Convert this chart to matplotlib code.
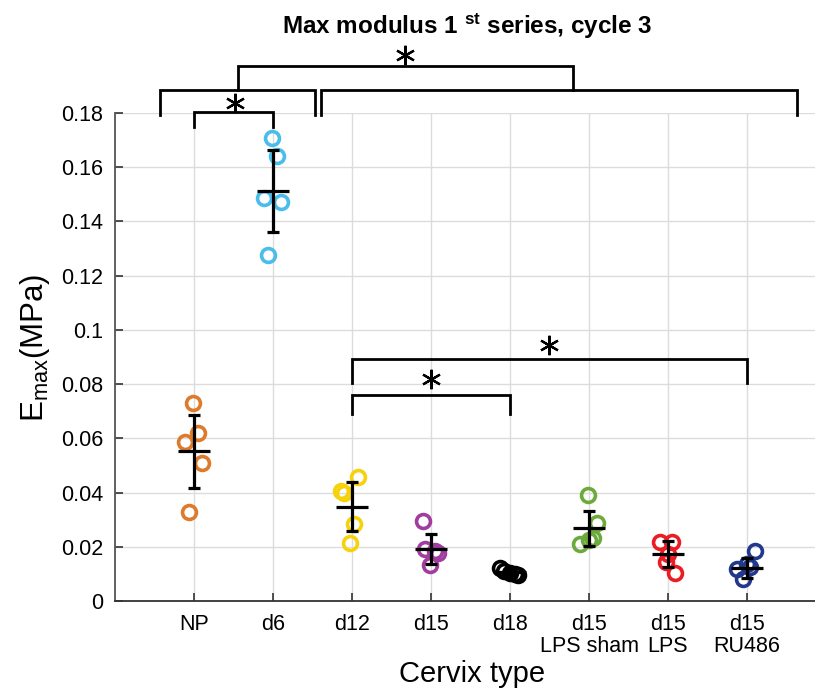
import matplotlib
matplotlib.use("Agg")
import matplotlib.pyplot as plt
import numpy as np

plt.rcParams['font.family'] = ['Liberation Sans', 'DejaVu Sans']
plt.rcParams['mathtext.fontset'] = 'custom'
plt.rcParams['mathtext.rm'] = 'Liberation Sans'
plt.rcParams['mathtext.it'] = 'Liberation Sans:italic'
plt.rcParams['mathtext.bf'] = 'Liberation Sans:bold'

categories = ["NP", "d6", "d12", "d15", "d18", "d15\nLPS sham", "d15\nLPS", "d15\nRU486"]
colors = ["#DD7A2C", "#4BBDEB", "#F6D20A", "#A03D9E", "#000000", "#6DAA3C", "#EC1C24", "#22388A"]

values = [
    [0.0730, 0.0620, 0.0587, 0.0509, 0.0328],
    [0.1708, 0.1641, 0.1487, 0.1472, 0.1276],
    [0.0457, 0.0405, 0.0400, 0.0284, 0.0214],
    [0.0295, 0.0192, 0.0185, 0.0177, 0.0133],
    [0.0120, 0.0112, 0.0104, 0.0098, 0.0096],
    [0.0391, 0.0289, 0.0232, 0.0225, 0.0210],
    [0.0219, 0.0219, 0.0175, 0.0145, 0.0102],
    [0.0184, 0.0135, 0.0127, 0.0117, 0.0081],
]
jitter = [
    [-0.01, 0.05, -0.11, 0.10, -0.06],
    [-0.01, 0.05, -0.11, 0.10, -0.06],
    [0.08, -0.14, -0.10, 0.03, -0.03],
    [-0.10, -0.08, 0.05, 0.09, -0.01],
    [-0.13, -0.08, 0.00, 0.06, 0.10],
    [-0.01, 0.10, 0.05, 0.00, -0.11],
    [-0.10, 0.05, 0.00, -0.02, 0.09],
    [0.10, 0.00, 0.04, -0.13, -0.05],
]
means = [0.0552, 0.1512, 0.0348, 0.0192, 0.0106, 0.0268, 0.0173, 0.0122]
errors = [0.0135, 0.0150, 0.0091, 0.0056, 0.0011, 0.0065, 0.0047, 0.0037]

# significance brackets: (x1, x2, y_top, y_leg_bottom)
brackets = [
    (1, 2, 0.1804, 0.1748),
    (0.57, 2.53, 0.1885, 0.1793),
    (2.61, 8.63, 0.1885, 0.1793),
    (1.56, 5.80, 0.1973, 0.1885),
    (3, 5, 0.0760, 0.0690),
    (3, 8, 0.0893, 0.0804),
]
stars = [(1.52, 0.1837), (3.67, 0.2014), (4.0, 0.0819), (5.49, 0.0944)]

fig = plt.figure(figsize=(8.15, 6.92), dpi=100)
ax = fig.add_axes([115/815, 91/692, 700/815, 488/692])

xs = np.arange(1, len(categories) + 1)
for i, x in enumerate(xs):
    ax.plot(x + np.array(jitter[i]), values[i], linestyle='none', marker='o',
            markersize=10, markerfacecolor='none', markeredgecolor=colors[i],
            markeredgewidth=2.6, zorder=3, clip_on=False)
    ax.errorbar(x, means[i], yerr=errors[i], fmt='none', ecolor='black',
                elinewidth=2.3, capsize=4.5, capthick=2.3, zorder=4)
    ax.plot([x - 0.2, x + 0.2], [means[i], means[i]], color='black', lw=2.3,
            zorder=4, solid_capstyle='butt')

for x1, x2, yt, yb in brackets:
    ax.plot([x1, x1, x2, x2], [yb, yt, yt, yb], color='black', lw=2.0,
            clip_on=False, zorder=5, solid_joinstyle='miter')
for sx, sy in stars:
    ax.plot(sx, sy, marker=(6, 2, 0), markersize=14, markeredgewidth=1.6,
            color='black', clip_on=False, zorder=5)

ax.set_xlim(0, 700/79)
ax.set_ylim(0, 0.18)
ax.set_xticks(xs)
ax.set_xticklabels(categories, fontsize=15.5, linespacing=1.1)
ax.set_yticks(np.arange(0, 0.181, 0.02))
ax.set_yticklabels(["0", "0.02", "0.04", "0.06", "0.08", "0.1", "0.12", "0.14", "0.16", "0.18"],
                   fontsize=15.5)
ax.tick_params(direction='in', length=6, width=1.2, colors='#333333', pad=8.5)
ax.tick_params(axis='x', labelcolor='black', pad=9)
ax.tick_params(axis='y', labelcolor='black')
ax.grid(True, color='#DCDCDC', lw=1.0)
ax.set_axisbelow(True)
for s in ['top', 'right']:
    ax.spines[s].set_visible(False)
ax.spines['left'].set_color('#555555')
ax.spines['bottom'].set_color('#333333')
ax.spines['left'].set_linewidth(1.3)
ax.spines['bottom'].set_linewidth(1.3)

fig.text(35/815, 1 - 348/692, r"E$_{\mathrm{max}}$(MPa)", rotation=90, fontsize=22.5,
         ha='center', va='center')
fig.text(472/815, 1 - 674/692, "Cervix type", fontsize=21, ha='center', va='center')
fig.text(467/815, 1 - 26/692, r"Max modulus 1 $^{\mathbf{st}}$ series, cycle 3",
         fontsize=17.5, fontweight='bold', ha='center', va='center')

fig.savefig("out.png", dpi=100)
